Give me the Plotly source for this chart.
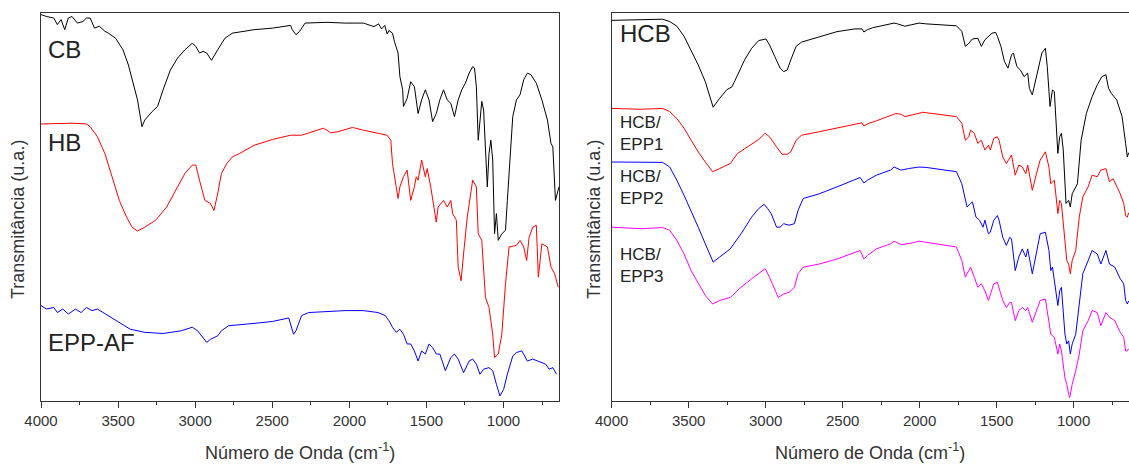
import plotly.graph_objects as go

# ---------------- data: (wavenumber cm-1, transmittance a.u.) ----------------
CB = [(4000,99.6),(3965,99.1),(3917,98.7),(3894,97.0),(3870,98.3),(3846,95.7),(3823,98.7),(3799,99.1),
      (3764,97.4),(3728,97.8),(3705,98.7),(3681,98.7),(3653,96.1),(3622,96.6),(3586,95.3),(3563,94.8),
      (3516,93.5),(3468,90.5),(3433,86.6),(3397,81.0),(3374,77.6),(3345,70.7),(3327,72.4),(3279,74.6),
      (3244,75.9),(3208,80.2),(3161,85.3),(3114,88.4),(3067,90.5),(3019,92.2),(2996,91.4),(2972,89.7),
      (2948,90.1),(2925,89.7),(2894,87.8),(2854,90.5),(2807,93.5),(2759,94.8),(2618,95.7),(2499,96.1),
      (2381,96.8),(2370,95.7),(2346,94.4),(2322,95.3),(2287,97.4),(2145,97.6),(2027,97.4),(1909,97.4),
      (1840,96.5),(1810,97.2),(1791,95.9),(1770,96.8),(1755,94.6),(1743,95.5),(1720,94.8),(1708,92.7),
      (1684,89.7),(1672,83.6),(1654,80.2),(1649,75.9),(1625,78.0),(1602,82.3),(1578,81.0),(1554,74.1),
      (1531,77.6),(1507,80.2),(1483,77.6),(1460,72.0),(1436,74.1),(1413,77.6),(1389,80.2),(1365,77.6),
      (1342,76.7),(1318,73.3),(1294,77.6),(1271,80.2),(1247,81.9),(1223,84.5),(1200,86.2),(1188,85.8),
      (1176,81.0),(1164,67.2),(1141,77.2),(1129,75.0),(1105,55.2),(1094,63.8),(1082,67.2),(1070,62.1),
      (1058,43.1),(1046,48.3),(1034,41.4),(1011,43.1),(987,44.0),(975,51.7),(964,58.6),(940,73.3),
      (916,77.6),(893,78.9),(869,82.8),(845,84.5),(822,84.1),(787,81.9),(751,77.6),(715,72.4),
      (692,66.4),(680,65.5),(663,51.7),(649,54.3),(640,55.2)]

HB = [(4000,71.4),(3799,71.6),(3705,71.4),(3681,70.7),(3634,68.1),(3586,63.8),(3539,57.8),(3492,51.7),
      (3445,47.4),(3409,44.8),(3374,43.8),(3327,44.8),(3256,46.6),(3185,50.0),(3114,55.2),(3067,58.6),
      (3019,60.8),(2996,60.8),(2972,56.9),(2937,51.7),(2901,50.9),(2878,49.1),(2854,53.4),(2830,58.6),
      (2795,61.2),(2759,62.9),(2712,63.8),(2618,65.9),(2499,67.4),(2381,68.5),(2310,68.5),(2240,69.4),
      (2169,70.3),(2145,69.8),(2121,69.1),(2074,69.4),(2003,70.3),(1980,70.5),(1909,69.8),(1814,69.1),
      (1755,68.5),(1731,67.2),(1720,61.2),(1696,55.2),(1684,52.2),(1672,55.2),(1649,57.8),(1625,59.5),
      (1613,56.0),(1602,51.7),(1578,55.2),(1566,57.8),(1554,56.9),(1531,62.1),(1507,57.8),(1495,59.9),
      (1472,55.2),(1460,51.7),(1436,46.1),(1424,50.0),(1389,51.7),(1365,50.0),(1342,51.7),(1330,48.3),
      (1306,46.6),(1294,34.5),(1275,31.0),(1259,37.9),(1235,47.4),(1200,56.9),(1176,55.2),(1164,43.1),
      (1141,41.4),(1117,26.7),(1094,24.1),(1070,17.2),(1058,11.2),(1034,12.1),(1011,17.2),(987,30.2),
      (964,39.7),(916,40.1),(893,41.4),(869,39.7),(850,36.2),(834,42.2),(810,44.8),(787,45.3),
      (774,31.9),(751,40.5),(715,39.7),(692,34.5),(668,32.8),(645,29.3)]

EPP_AF = [(4000,24.6),(3965,23.7),(3917,24.1),(3894,22.8),(3858,23.7),(3823,22.4),(3776,23.7),(3740,22.8),
          (3705,24.1),(3669,23.3),(3634,23.7),(3598,22.8),(3563,22.0),(3492,20.3),(3421,18.5),(3327,17.7),
          (3208,17.4),(3090,18.1),(3019,19.0),(2984,18.1),(2948,16.4),(2925,15.1),(2901,15.9),(2854,16.8),
          (2830,18.1),(2783,19.4),(2618,20.0),(2499,20.5),(2393,21.4),(2381,19.8),(2362,17.2),(2346,18.1),
          (2310,22.0),(2263,22.8),(2145,23.1),(2027,23.3),(1909,23.3),(1814,22.8),(1767,22.0),(1743,20.7),
          (1720,19.0),(1696,17.7),(1672,18.5),(1649,17.2),(1625,14.7),(1602,14.7),(1578,12.9),(1554,10.3),
          (1531,12.9),(1507,12.1),(1483,14.7),(1460,13.8),(1436,12.1),(1413,12.1),(1377,7.8),(1342,11.2),
          (1318,12.1),(1294,10.8),(1259,7.3),(1223,10.3),(1200,10.8),(1176,9.5),(1153,6.9),(1129,8.2),
          (1094,8.6),(1070,7.8),(1046,4.3),(1023,1.3),(999,3.0),(975,6.9),(940,11.6),(916,12.5),
          (881,12.9),(845,10.3),(810,10.8),(774,10.3),(727,9.5),(704,8.2),(680,8.6),(656,6.9)]

HCB = [(4000,98.1),(3808,98.3),(3669,98.4),(3623,97.8),(3577,96.6),(3530,94.0),(3484,90.5),(3438,86.6),
       (3392,82.3),(3357,77.6),(3341,75.7),(3299,78.0),(3253,80.2),(3218,81.0),(3183,84.1),(3137,87.9),
       (3091,90.9),(3045,92.9),(2998,93.3),(2975,91.8),(2941,88.8),(2906,85.8),(2883,84.9),(2860,85.3),
       (2837,87.9),(2802,91.4),(2767,92.5),(2652,93.8),(2536,95.2),(2420,95.9),(2374,95.9),(2362,95.1),
       (2339,95.7),(2305,96.2),(2189,97.2),(2166,97.4),(2143,97.2),(2096,96.6),(2050,97.0),(2004,97.4),
       (1958,97.2),(1842,97.0),(1761,96.7),(1726,95.3),(1703,91.4),(1680,92.2),(1657,93.3),(1622,93.5),
       (1599,91.4),(1576,93.1),(1530,94.8),(1506,95.0),(1495,94.0),(1472,91.4),(1449,87.5),(1426,85.8),
       (1403,89.2),(1391,89.7),(1368,86.2),(1345,85.3),(1322,83.6),(1298,84.5),(1287,80.6),(1268,78.9),
       (1252,81.9),(1229,86.2),(1206,89.7),(1183,90.9),(1171,86.2),(1153,75.9),(1137,80.2),(1125,79.7),
       (1102,63.8),(1090,68.1),(1079,69.0),(1067,64.7),(1049,50.9),(1032,51.7),(1021,50.0),(1009,53.4),
       (986,55.2),(975,56.0),(951,67.2),(917,74.1),(880,78.4),(846,81.5),(816,83.6),(790,84.1),
       (773,80.6),(755,79.3),(720,77.6),(685,73.3),(662,66.4),(651,62.9),(642,64.0)]

HCB_EPP1 = [(4000,75.4),(3808,75.2),(3669,75.4),(3623,74.6),(3577,72.8),(3530,70.3),(3484,67.2),(3438,64.2),
            (3392,61.6),(3345,59.1),(3299,59.9),(3230,61.2),(3183,63.8),(3114,65.5),(3045,67.4),(3003,69.0),
            (2975,68.1),(2929,65.5),(2894,63.6),(2860,63.6),(2837,64.2),(2802,67.2),(2767,68.5),(2652,69.4),
            (2536,70.4),(2420,71.3),(2374,71.7),(2362,70.9),(2328,71.6),(2281,72.2),(2189,73.7),(2154,74.1),
            (2120,73.9),(2096,73.3),(2050,73.7),(1981,74.4),(1958,74.3),(1842,73.7),(1761,73.3),(1726,71.6),
            (1703,67.2),(1680,68.1),(1669,69.8),(1645,69.0),(1622,66.4),(1599,67.2),(1576,64.7),(1553,65.9),
            (1541,64.7),(1518,67.7),(1495,68.1),(1484,67.2),(1460,62.9),(1437,61.2),(1414,62.9),(1403,63.4),
            (1379,58.2),(1356,60.8),(1333,60.3),(1310,58.6),(1298,60.8),(1268,54.3),(1241,58.6),(1217,62.1),
            (1183,64.2),(1160,60.3),(1148,56.0),(1125,56.9),(1102,48.3),(1090,51.7),(1079,50.9),(1056,42.2),
            (1044,36.2),(1032,35.3),(1021,32.8),(1009,36.2),(986,38.8),(963,47.4),(940,52.6),(905,55.2),
            (880,58.2),(846,57.8),(823,59.5),(790,59.9),(767,56.5),(743,57.3),(697,53.4),(674,50.9),
            (662,47.8),(651,47.4),(642,48.5)]

HCB_EPP2 = [(4000,61.6),(3808,61.6),(3669,61.5),(3623,60.3),(3577,56.9),(3530,53.0),(3484,49.1),(3438,44.8),
            (3392,40.5),(3357,37.5),(3341,35.8),(3299,37.1),(3230,39.2),(3160,43.1),(3091,47.4),(3045,49.6),
            (3010,50.7),(2987,49.6),(2964,48.3),(2929,44.8),(2906,44.8),(2883,45.7),(2848,45.3),(2813,45.7),
            (2790,49.1),(2756,52.2),(2652,53.4),(2536,55.2),(2420,56.9),(2386,57.6),(2362,56.2),(2339,56.9),
            (2281,58.2),(2189,59.5),(2166,60.3),(2120,59.5),(2073,59.9),(2004,60.3),(1958,60.2),(1842,59.5),
            (1761,59.1),(1726,56.0),(1703,51.7),(1692,50.0),(1669,50.9),(1657,51.3),(1634,47.4),(1611,46.6),
            (1588,44.8),(1576,46.6),(1553,43.1),(1541,43.5),(1518,46.6),(1495,47.8),(1484,46.6),(1460,42.2),
            (1437,40.1),(1414,42.2),(1403,41.8),(1379,33.6),(1356,37.1),(1333,39.2),(1310,37.1),(1298,39.2),
            (1268,32.8),(1241,37.9),(1217,43.1),(1183,43.5),(1160,38.8),(1148,33.6),(1137,34.5),(1102,24.6),
            (1090,28.4),(1079,29.3),(1056,17.2),(1044,14.7),(1032,15.5),(1021,12.1),(1009,14.7),(986,17.2),
            (963,25.9),(940,32.8),(905,36.2),(880,38.8),(846,37.9),(823,35.3),(790,38.8),(767,35.3),
            (732,34.5),(697,31.5),(674,30.2),(662,25.9),(651,25.0),(642,25.8)]

HCB_EPP3 = [(4000,44.8),(3808,44.4),(3669,44.7),(3623,44.0),(3577,41.4),(3530,37.9),(3484,33.6),(3438,30.2),
            (3392,27.2),(3345,25.0),(3299,25.9),(3230,26.7),(3160,29.3),(3091,31.5),(3045,32.8),(3003,34.1),
            (2975,31.9),(2941,28.9),(2918,26.7),(2883,27.6),(2848,28.0),(2813,29.3),(2790,32.8),(2756,34.5),
            (2652,35.3),(2536,36.6),(2420,38.4),(2386,38.8),(2362,36.6),(2339,37.5),(2281,39.2),(2189,40.5),
            (2166,41.2),(2120,40.3),(2050,40.7),(2004,41.2),(1958,40.9),(1842,40.1),(1761,39.7),(1726,36.2),
            (1703,31.9),(1692,32.8),(1669,34.5),(1645,31.9),(1622,29.3),(1599,30.2),(1576,28.4),(1553,25.9),
            (1541,27.6),(1518,30.2),(1495,30.6),(1484,29.3),(1460,25.9),(1437,24.1),(1414,25.4),(1403,25.4),
            (1379,20.7),(1356,23.3),(1333,24.1),(1310,23.3),(1298,24.1),(1268,20.3),(1241,23.3),(1217,25.9),
            (1183,26.3),(1160,20.7),(1148,17.2),(1125,16.4),(1102,12.1),(1090,14.7),(1079,12.9),(1056,6.0),
            (1044,4.3),(1032,1.7),(1025,0.9),(1009,4.3),(986,7.8),(963,12.1),(940,18.1),(905,20.7),
            (880,23.3),(846,22.8),(823,19.4),(790,22.8),(767,21.6),(732,20.7),(697,17.7),(674,16.4),
            (662,12.9),(651,12.9),(642,13.5)]

X_RANGE = [4000, 640]
Y_RANGE = [0, 100]
X_TICKS = [4000, 3500, 3000, 2500, 2000, 1500, 1000]

# (panel, label, anchor wavenumber, anchor transmittance, font size)
LABELS = [(1, "CB", 3970, 90.5, 24), (1, "HB", 3970, 66.5, 24), (1, "EPP-AF", 3970, 15.0, 24),
          (2, "HCB", 3960, 94.6, 24), (2, "HCB/<br>EPP1", 3960, 69.0, 17),
          (2, "HCB/<br>EPP2", 3960, 55.0, 17), (2, "HCB/<br>EPP3", 3960, 35.0, 17)]

LEFT_SERIES = [(CB, "CB", "#000000"), (HB, "HB", "#ff0000"), (EPP_AF, "EPP-AF", "#0000ff")]
RIGHT_SERIES = [(HCB, "HCB", "#000000"), (HCB_EPP1, "HCB/EPP1", "#ff0000"),
                (HCB_EPP2, "HCB/EPP2", "#0000ff"), (HCB_EPP3, "HCB/EPP3", "#ff00ff")]

FONT = "Liberation Sans, Arial, sans-serif"
AX = "#333333"

fig = go.Figure()
for data, name, color in LEFT_SERIES:
    fig.add_trace(go.Scatter(x=[p[0] for p in data], y=[p[1] for p in data], mode="lines", name=name,
                             line=dict(color=color, width=1), xaxis="x", yaxis="y"))
for data, name, color in RIGHT_SERIES:
    fig.add_trace(go.Scatter(x=[p[0] for p in data], y=[p[1] for p in data], mode="lines", name=name,
                             line=dict(color=color, width=1), xaxis="x2", yaxis="y2"))

W, H = 1129, 464
ydom = [(H - 401) / H, (H - 13) / H]


def xax(domain, anchor):
    return dict(domain=domain, anchor=anchor, range=X_RANGE, tickvals=X_TICKS,
                ticktext=[str(v) for v in X_TICKS], ticks="outside", ticklen=6, tickwidth=1,
                tickcolor=AX, showline=True, linecolor=AX, linewidth=1, mirror=True,
                showgrid=False, zeroline=False, automargin=False,
                tickfont=dict(family=FONT, size=15, color="#333333"),
                minor=dict(dtick=250, tick0=0, ticks="outside", ticklen=3, tickcolor=AX, showgrid=False))


def yax(anchor, mirror):
    return dict(domain=ydom, anchor=anchor, range=Y_RANGE, showticklabels=False, ticks="",
                showline=True, linecolor=AX, linewidth=1, mirror=mirror, showgrid=False,
                zeroline=False, automargin=False)


annotations = []
for panel, text, wx, ty, size in LABELS:
    annotations.append(dict(text=text, x=wx, y=ty, xref="x" if panel == 1 else "x2",
                            yref="y" if panel == 1 else "y2", xanchor="left", yanchor="middle",
                            align="left", showarrow=False,
                            font=dict(family=FONT, size=size, color="#222222")))

for cx in [300 / W, 870 / W]:
    annotations.append(dict(text="Número de Onda (cm<sup>-1</sup>)", x=cx, y=(H - 451) / H,
                            xref="paper", yref="paper", xanchor="center", yanchor="middle",
                            showarrow=False, font=dict(family=FONT, size=18, color="#333333")))
for cx in [18 / W, 594 / W]:
    annotations.append(dict(text="Transmitância (u.a.)", x=cx, y=(H - 220) / H, textangle=-90,
                            xref="paper", yref="paper", xanchor="center", yanchor="middle",
                            showarrow=False, font=dict(family=FONT, size=18, color="#333333")))

fig.update_layout(
    width=W, height=H, margin=dict(l=0, r=0, t=0, b=0),
    paper_bgcolor="white", plot_bgcolor="white", showlegend=False,
    xaxis=xax([41 / W, 559 / W], "y"), yaxis=yax("x", True),
    xaxis2=xax([611.7 / W, 1.0], "y2"), yaxis2=yax("x2", False),
    annotations=annotations,
)

fig.write_html("out.html")
